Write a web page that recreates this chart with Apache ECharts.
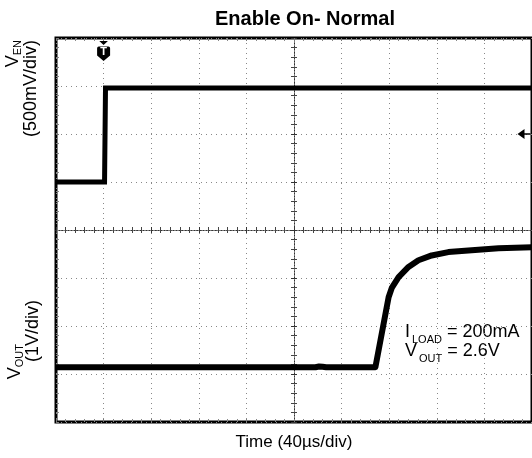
<!DOCTYPE html>
<html><head><meta charset="utf-8">
<script src="https://cdn.jsdelivr.net/npm/echarts@6/dist/echarts.min.js"></script>
<style>html,body{margin:0;padding:0;background:#fff}#c{width:532px;height:458px}</style>
</head><body><div id="c"></div>
<script>
// Time in microseconds relative to the trigger (40 us/div)
const venTime  = [-40, 0.8, 1.6, 360];
const venVolts = [0, 0, 0.98, 0.98];              // 500 mV/div
const voutTime  = [-40, 178, 181, 184, 187, 228.4, 239.5, 242.3, 247.9, 256.2, 264.6, 275.7, 289.7, 303.7, 331.9, 360];
const voutVolts = [0, 0, 0.015, 0.01, 0, 0, 1.46, 1.66, 1.88, 2.09, 2.23, 2.33, 2.40, 2.43, 2.48, 2.50]; // 1 V/div
const triggerTime = 0;
const triggerLevel = 0.5;
const titleText = 'Enable On- Normal';
const xName = 'Time (40µs/div)';
const notes = [['I', 'LOAD', ' = 200mA'], ['V', 'OUT', ' = 2.6V']];

const FONT = '"Liberation Sans", Arial, Helvetica, sans-serif';
const zip = (a, b) => a.map((v, i) => [v, b[i]]);

const dotGrid = { show: true, lineStyle: { color: '#888', width: 1, type: [1, 4] } };
function centerX(pos) {
  return { type: 'value', min: -5, max: 5, interval: 1, position: pos,
    axisLine: { show: true, onZero: true, onZeroAxisIndex: 2, lineStyle: { color: '#333', width: 1, type: [1, 2] } },
    axisTick: { show: true, inside: true, length: 3, lineStyle: { color: '#333' } },
    minorTick: { show: true, splitNumber: 5, length: 3, lineStyle: { color: '#444' } },
    axisLabel: { show: false }, splitLine: { show: false } };
}
function centerY(pos) {
  return { type: 'value', min: -4, max: 4, interval: 1, position: pos,
    axisLine: { show: true, onZero: true, onZeroAxisIndex: 1, lineStyle: { color: '#333', width: 1, type: [1, 2] } },
    axisTick: { show: true, inside: true, length: 3, lineStyle: { color: '#333' } },
    minorTick: { show: true, splitNumber: 5, length: 3, lineStyle: { color: '#444' } },
    axisLabel: { show: false }, splitLine: { show: false } };
}
function borderX(pos) {
  return { type: 'value', min: -5, max: 5, interval: 1, position: pos,
    axisLine: { show: false, onZero: false },
    axisTick: { show: true, inside: true, length: 3, lineStyle: { color: '#777' } },
    minorTick: { show: true, splitNumber: 5, length: 3, lineStyle: { color: '#888' } },
    axisLabel: { show: false }, splitLine: { show: false } };
}
function borderY(pos) {
  return { type: 'value', min: -4, max: 4, interval: 1, position: pos,
    axisLine: { show: false, onZero: false },
    axisTick: { show: true, inside: true, length: 3, lineStyle: { color: '#777' } },
    minorTick: { show: true, splitNumber: 5, length: 3, lineStyle: { color: '#888' } },
    axisLabel: { show: false }, splitLine: { show: false } };
}

function rotLabel(x, y, main, sub) {
  return { type: 'text', x: x, y: y, rotation: Math.PI / 2,
    style: { text: sub ? '{m|' + main + '}{s|' + sub + '}' : '{m|' + main + '}',
      align: 'right', verticalAlign: 'middle', fill: '#000',
      rich: { m: { fontFamily: FONT, fontSize: 18, lineHeight: 20, verticalAlign: 'top', fill: '#000' },
              s: { fontFamily: FONT, fontSize: 11, lineHeight: 11, padding: [8, 0, 0, 0], verticalAlign: 'top', fill: '#000' } } } };
}
function note(x, y, parts) {
  return { type: 'text', x: x, y: y,
    style: { text: '{m|' + parts[0] + '}{s|' + parts[1] + '}{m|' + parts[2] + '}', align: 'left', verticalAlign: 'top', fill: '#000',
      rich: { m: { fontFamily: FONT, fontSize: 18, lineHeight: 20, verticalAlign: 'top', fill: '#000' },
              s: { fontFamily: FONT, fontSize: 11, lineHeight: 11, padding: [11, 0, 0, 2], verticalAlign: 'top', fill: '#000' } } } };
}

const chart = echarts.init(document.getElementById('c'), null, { renderer: 'canvas' });
chart.setOption({
  animation: false,
  backgroundColor: '#fff',
  title: { text: titleText, left: 305, top: 9, textAlign: 'center', padding: 0,
    textStyle: { fontFamily: FONT, fontSize: 20, fontWeight: 'bold', color: '#000' } },
  grid: { left: 56, right: -2, top: 38, bottom: 36, show: true, borderColor: '#000', borderWidth: 3, backgroundColor: 'transparent' },
  xAxis: [
    { type: 'value', min: -40, max: 360, interval: 40, position: 'bottom',
      axisLine: { show: false, onZero: false }, axisTick: { show: false }, axisLabel: { show: false },
      splitLine: dotGrid,
      name: xName, nameLocation: 'middle', nameGap: 12,
      nameTextStyle: { fontFamily: FONT, fontSize: 17, color: '#000', verticalAlign: 'top' } },
    centerX('bottom'), centerX('top'), borderX('bottom'), borderX('top')
  ],
  yAxis: [
    { type: 'value', min: -2.5, max: 1.5, interval: 0.5, position: 'left',
      axisLine: { show: false, onZero: false }, axisTick: { show: false }, axisLabel: { show: false },
      splitLine: dotGrid },
    { type: 'value', min: -1.14, max: 6.86, position: 'right', show: false,
      axisLine: { show: false, onZero: false }, splitLine: { show: false } },
    centerY('left'), centerY('right'), borderY('left')
  ],
  series: [
    { name: 'VEN', type: 'line', xAxisIndex: 0, yAxisIndex: 0, data: zip(venTime, venVolts),
      showSymbol: false, symbol: 'none', lineStyle: { color: '#000', width: 5, join: 'miter' }, z: 5,
      markPoint: { silent: true, animation: false, data: [
        { coord: [triggerTime, 1.5], symbol: 'path://M2,0L10,0L6,3.5ZM1.5,5L10.5,5Q12,5 12,6.5L12,13L6,18L0,13L0,6.5Q0,5 1.5,5Z',
          symbolSize: [13, 20], symbolOffset: [0, 13], itemStyle: { color: '#000' },
          label: { show: true, formatter: 'T', color: '#fff', fontFamily: FONT, fontWeight: 'bold', fontSize: 11, offset: [0, 1] } },
        { coord: [360, triggerLevel], symbol: 'path://M0,5L7,0L7,10ZM7,4.3L13,4.3L13,5.7L7,5.7Z',
          symbolSize: [13, 10], symbolOffset: [-8, 0], itemStyle: { color: '#000' }, label: { show: false } }
      ] } },
    { name: 'VOUT', type: 'line', xAxisIndex: 0, yAxisIndex: 1, data: zip(voutTime, voutVolts),
      showSymbol: false, symbol: 'none', lineStyle: { color: '#000', width: 6, join: 'round' }, z: 5 }
  ],
  graphic: [
    rotLabel(14, 40, 'V', 'EN'),
    rotLabel(32, 40, '(500mV/div)'),
    rotLabel(16, 344, 'V', 'OUT'),
    rotLabel(34, 300, '(1V/div)'),
    note(405, 323, notes[0]),
    note(405, 342, notes[1])
  ]
});
</script></body></html>
